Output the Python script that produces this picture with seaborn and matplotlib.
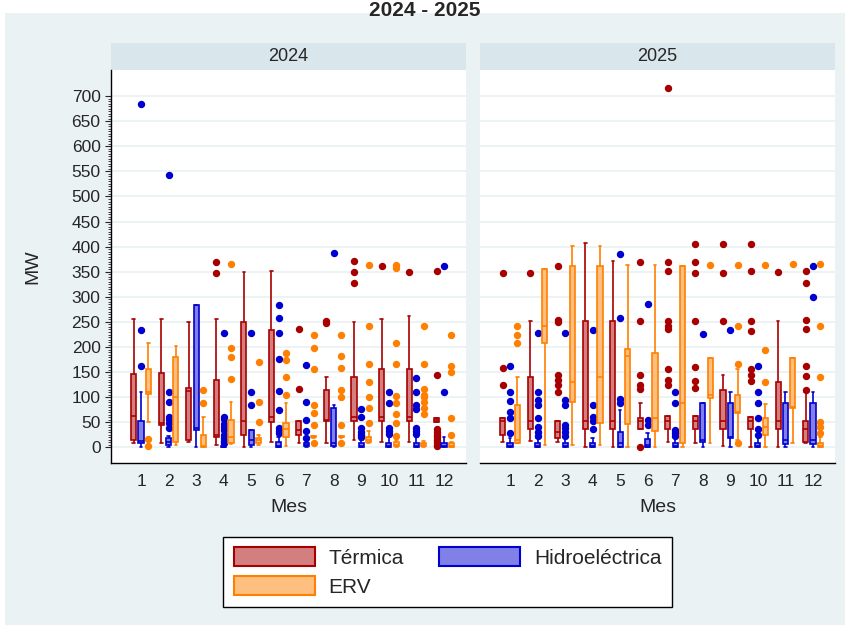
import numpy as np
import pandas as pd
import matplotlib
matplotlib.use("Agg")
import matplotlib.pyplot as plt
from matplotlib.patches import Patch, Rectangle
from matplotlib.ticker import FixedLocator
import seaborn as sns

# -------------------------------
# Data
# -------------------------------
months = [str(m) for m in range(1, 13)]
sources = ["Térmica", "Hidroeléctrica", "ERV"]
years = ["2024", "2025"]

# box stats per month: (lower whisker, q1, median, q3, upper whisker)
t24_stats = [(8, 15, 62, 147, 255), (8, 45, 48, 149, 255), (10, 15, 112, 118, 250),
             (5, 21, 25, 135, 255), (1, 25, 52, 250, 349), (11, 51, 60, 233, 351),
             (9, 24, 35, 52, 52), (9, 52, 55, 114, 141), (15, 52, 60, 140, 250),
             (10, 52, 60, 157, 255), (10, 52, 60, 157, 262), (51, 51, 55, 59, 59)]
t24_out = [[], [], [], [370, 348], [], [], [235, 116], [252, 248], [371, 349, 327],
           [362], [350], [351, 144, 36, 30, 25, 20, 15, 10, 5, 2]]

h24_stats = [(1, 8, 12, 52, 111), (0, 5, 11, 18, 23), (1, 35, 38, 284, 284),
             (0, 0, 1, 3, 5), (0, 5, 15, 34, 34), (0, 0, 3, 10, 20),
             (0, 2, 5, 8, 10), (0, 2, 8, 78, 84), (0, 0, 3, 8, 15),
             (0, 0, 3, 8, 15), (0, 0, 3, 8, 15), (0, 0, 3, 8, 15)]
h24_out = [[685, 233, 163], [543, 111, 91, 61, 56, 48, 39], [],
           [229, 61, 56, 46, 40, 34, 25, 18, 12, 8], [229, 111, 84],
           [284, 258, 229, 177, 112, 74, 38, 33, 28], [164, 90, 54, 33, 19], [388],
           [76, 61, 38, 30, 25, 21], [111, 89, 38, 32, 26, 20],
           [138, 111, 84, 76, 38, 32, 26, 20], [361, 111, 20]]

e24_stats = [(50, 106, 110, 157, 208), (5, 11, 101, 180, 202), (0, 0, 3, 25, 60),
             (6, 8, 20, 54, 90), (5, 8, 14, 19, 25), (2, 21, 36, 49, 88),
             (19, 20, 21, 22, 23), (19, 20, 21, 22, 23), (8, 10, 15, 20, 33),
             (0, 2, 5, 10, 15), (0, 3, 6, 9, 12), (0, 0, 3, 8, 10)]
e24_out = [[17, 3], [], [114, 88], [365, 198, 181, 136], [171, 90, 51],
           [188, 174, 141, 104], [225, 198, 156, 84, 68, 44, 9],
           [225, 182, 158, 114, 100, 44, 9], [363, 242, 166, 131, 101, 79, 48],
           [363, 357, 208, 166, 102, 88, 66, 48, 23],
           [242, 166, 116, 104, 100, 90, 78, 66], [225, 162, 150, 59, 25]]

t25_stats = [(10, 25, 52, 59, 59), (12, 36, 52, 141, 252), (11, 19, 30, 52, 52),
             (1, 36, 52, 252, 407), (1, 36, 52, 252, 371), (1, 36, 52, 59, 89),
             (11, 36, 52, 62, 62), (9, 36, 52, 62, 62), (3, 36, 52, 114, 145),
             (1, 36, 52, 61, 61), (1, 36, 52, 131, 252), (8, 11, 36, 52, 110)]
t25_out = [[348, 159, 124], [348], [362, 254, 250, 145, 134, 124, 110], [], [],
           [370, 252, 144, 124, 117], [716, 370, 351, 252, 242, 235, 157, 134, 124],
           [405, 370, 348, 252, 161, 133, 119], [405, 348, 252],
           [405, 351, 252, 232, 157, 144, 133], [350], [351, 327, 254, 235, 162, 142, 114]]

h25_stats = [(0, 0, 3, 8, 15), (0, 0, 3, 8, 15), (0, 0, 3, 8, 15),
             (0, 0, 3, 8, 15), (0, 1, 8, 31, 74), (0, 1, 5, 16, 28),
             (0, 0, 3, 8, 15), (0, 11, 15, 89, 89), (0, 18, 20, 89, 111),
             (0, 0, 3, 8, 15), (0, 7, 15, 88, 111), (0, 7, 15, 88, 111)]
h25_out = [[163, 111, 92, 71, 59, 28, 18], [229, 111, 94, 84, 58, 40, 30, 22, 18],
           [229, 94, 84, 44, 38, 30, 22, 18], [233, 84, 61, 52, 36, 19],
           [386, 257, 96, 88], [285, 54, 45], [111, 89, 34, 28, 22, 18], [227], [233],
           [163, 111, 89, 59, 36, 25, 20], [], [361, 300]]

e25_stats = [(8, 8, 15, 85, 141), (5, 209, 242, 356, 356), (5, 90, 131, 362, 401),
             (5, 48, 141, 362, 401), (1, 46, 182, 197, 363), (1, 32, 58, 189, 363),
             (1, 9, 89, 362, 362), (9, 98, 104, 179, 179), (15, 68, 70, 104, 157),
             (1, 25, 40, 59, 86), (9, 78, 80, 179, 179), (0, 0, 3, 8, 15)]
e25_out = [[242, 225, 209], [], [], [], [], [], [], [363], [363, 242, 167, 9],
           [363, 195, 131], [366], [366, 242, 141, 51, 40, 28, 20]]

fills = {"Térmica": "#D47F7F", "Hidroeléctrica": "#8080E6", "ERV": "#FFBF80"}
edges = {"Térmica": "#A80000", "Hidroeléctrica": "#0000D0", "ERV": "#FF8000"}

# -------------------------------
# Long table for seaborn
# (blocks of repeated quartile values pin the box stats)
# -------------------------------
def expand(stats, outliers, year, source):
    rows = []
    for m, (lo, q1, med, q3, hi), out in zip(months, stats, outliers):
        vals = [lo, hi] + [q1] * 200 + [med] * 200 + [q3] * 200 + list(out)
        rows += [(year, source, m, v) for v in vals]
    return rows

rows = (expand(t24_stats, t24_out, "2024", "Térmica")
        + expand(h24_stats, h24_out, "2024", "Hidroeléctrica")
        + expand(e24_stats, e24_out, "2024", "ERV")
        + expand(t25_stats, t25_out, "2025", "Térmica")
        + expand(h25_stats, h25_out, "2025", "Hidroeléctrica")
        + expand(e25_stats, e25_out, "2025", "ERV"))
df = pd.DataFrame(rows, columns=["anio", "fuente", "mes", "mw"])

# -------------------------------
# Figure
# -------------------------------
sns.set_style("white")
plt.rcParams["font.family"] = ["Liberation Sans", "DejaVu Sans"]

bg = "#EAF2F3"
fig = plt.figure(figsize=(8.5, 6.3), dpi=100)
fig.patch.set_facecolor("white")
fig.patches.append(Rectangle((5 / 850, 5 / 630), 840 / 850, 612 / 630,
                             transform=fig.transFigure, facecolor=bg,
                             edgecolor="none", zorder=-5))

fig.text(0.5, 0.999, "2024 - 2025", ha="center", va="top",
         fontsize=15, fontweight="bold")

lefts = [111 / 850, 480 / 850]
for i, year in enumerate(years):
    ax = fig.add_axes([lefts[i], 1 - 463 / 630, 355 / 850, 393 / 630])
    sub = df[df["anio"] == year]
    for src in sources:
        sns.boxplot(data=sub[sub["fuente"] == src], x="mes", y="mw", hue="fuente",
                    order=months, hue_order=sources, palette=fills, dodge=True,
                    width=0.8, gap=0.3, saturation=1, linecolor=edges[src],
                    linewidth=1.2, fliersize=4.3,
                    flierprops=dict(marker="o", markerfacecolor=edges[src],
                                    markeredgecolor=edges[src]),
                    legend=False, ax=ax)

    ax.set_xlim(-1.09, 11.8)
    ax.set_ylim(-31, 752)
    ax.set_facecolor("white")
    ax.set_yticks(np.arange(0, 701, 50))
    ax.yaxis.grid(True, color=bg, linewidth=1.3)
    ax.set_axisbelow(True)
    for s in ["top", "right"]:
        ax.spines[s].set_visible(False)
    ax.spines["bottom"].set_color("black")
    ax.spines["bottom"].set_linewidth(1)
    ax.tick_params(axis="x", length=0, labelsize=12.5, pad=8)
    ax.set_xlabel("Mes", fontsize=14, labelpad=7)

    # panel header
    ax.add_patch(Rectangle((0, 1), 1, 27 / 393, transform=ax.transAxes,
                           facecolor="#D9E6EB", edgecolor="none", clip_on=False))
    ax.text(0.5, 1 + 13.5 / 393, year, transform=ax.transAxes,
            ha="center", va="center", fontsize=13)

    if i == 0:
        ax.spines["left"].set_color("black")
        ax.spines["left"].set_linewidth(1)
        ax.yaxis.set_minor_locator(FixedLocator(np.arange(0, 701, 5)))
        ax.tick_params(axis="y", which="major", length=4, width=0.8,
                       labelsize=12.5, direction="out", left=True)
        ax.tick_params(axis="y", which="minor", length=2, width=0.6,
                       direction="out", left=True)
        ax.set_ylabel("MW", fontsize=14, labelpad=22)
    else:
        ax.spines["left"].set_visible(False)
        ax.tick_params(axis="y", which="both", length=0, labelleft=False)
        ax.set_ylabel("")

handles = [Patch(facecolor=fills[s], edgecolor=edges[s], linewidth=1.5, label=s)
           for s in ["Térmica", "ERV", "Hidroeléctrica"]]
leg = fig.legend(handles=handles, ncol=2, loc="center",
                 bbox_to_anchor=(447.5 / 850, 1 - 572 / 630),
                 fontsize=15, handlelength=3.9, handleheight=1.04,
                 handletextpad=0.65, columnspacing=1.7, labelspacing=0.4,
                 borderpad=0.5, fancybox=False, framealpha=1,
                 edgecolor="black")
leg.get_frame().set_linewidth(1)

plt.savefig("out.png", dpi=100, facecolor=fig.get_facecolor())
